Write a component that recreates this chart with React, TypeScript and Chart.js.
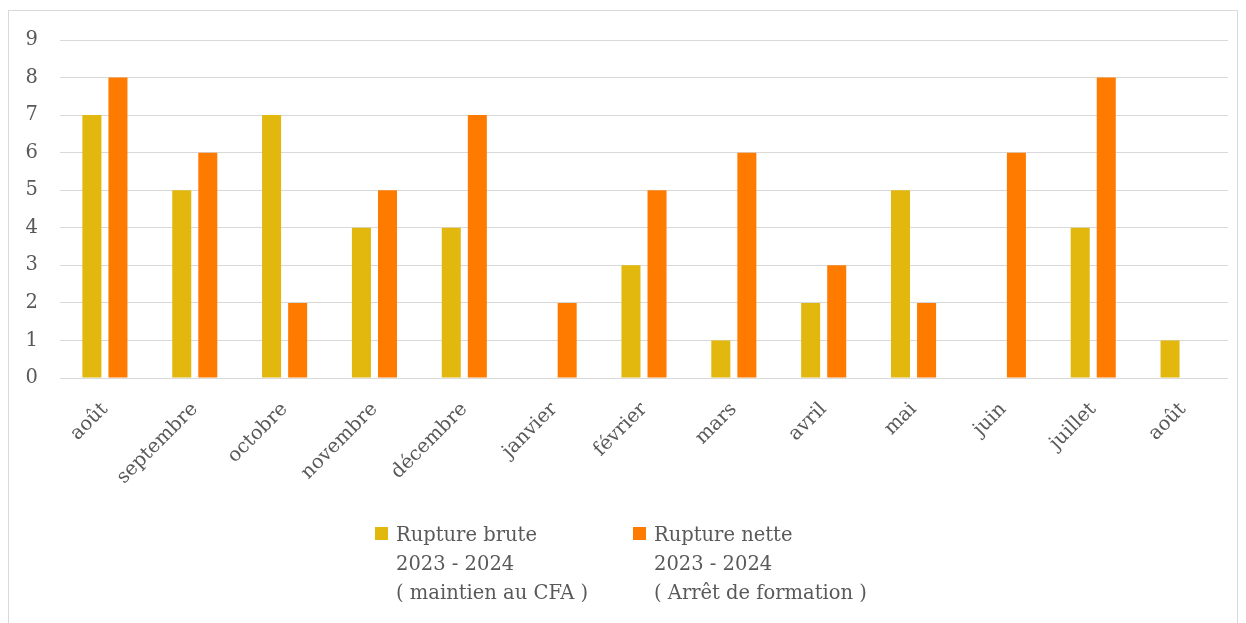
import React, { useEffect, useRef } from "react";
import { Chart, registerables } from "chart.js";

Chart.register(...registerables);

const categories = [
  "août", "septembre", "octobre", "novembre", "décembre", "janvier",
  "février", "mars", "avril", "mai", "juin", "juillet", "août",
];
const ruptureBrute: (number | null)[] = [7, 5, 7, 4, 4, null, 3, 1, 2, 5, null, 4, 1];
const ruptureNette: (number | null)[] = [8, 6, 2, 5, 7, 2, 5, 6, 3, 2, 6, 8, null];
const yTicks = [0, 1, 2, 3, 4, 5, 6, 7, 8, 9];
const legendBrute = ["Rupture brute", "2023 - 2024", "( maintien au CFA )"];
const legendNette = ["Rupture nette", "2023 - 2024", "( Arrêt de formation )"];

const COLOR_BRUTE = "#E2B70E";
const COLOR_NETTE = "#FF7B00";
const TEXT = "#595959";
const FONT = '"DejaVu Serif", serif';
const FS = 19.5;

const legendPlugin = {
  id: "multiLineLegend",
  afterDraw(chart: any) {
    const ctx = chart.ctx as CanvasRenderingContext2D;
    const items = [
      { x: 366, lines: legendBrute, color: COLOR_BRUTE },
      { x: 624, lines: legendNette, color: COLOR_NETTE },
    ];
    ctx.save();
    ctx.font = `${FS}px ${FONT}`;
    ctx.textBaseline = "alphabetic";
    ctx.textAlign = "left";
    items.forEach((it) => {
      ctx.fillStyle = it.color;
      ctx.fillRect(it.x, 516, 13, 13);
      ctx.fillStyle = TEXT;
      it.lines.forEach((ln, i) => {
        ctx.fillText(ln, it.x + 21, 530 + i * 29);
      });
    });
    ctx.restore();
  },
};

export default function App() {
  const ref = useRef<HTMLCanvasElement | null>(null);
  useEffect(() => {
    if (!ref.current) return;
    const chart = new Chart(ref.current, {
      type: "bar",
      data: {
        labels: categories,
        datasets: [
          {
            label: legendBrute.join(" "),
            data: ruptureBrute,
            backgroundColor: COLOR_BRUTE,
            categoryPercentage: 0.58,
            barPercentage: 0.73,
          },
          {
            label: legendNette.join(" "),
            data: ruptureNette,
            backgroundColor: COLOR_NETTE,
            categoryPercentage: 0.58,
            barPercentage: 0.73,
          },
        ],
      },
      options: {
        responsive: false,
        animation: false,
        devicePixelRatio: 1,
        layout: { padding: { top: 29, right: 9, left: 0, bottom: 0 } },
        plugins: {
          legend: { display: false },
          tooltip: { enabled: false },
        },
        scales: {
          x: {
            grid: { display: false, drawTicks: false },
            border: { display: false },
            ticks: {
              color: TEXT,
              font: { family: FONT, size: FS },
              maxRotation: 45,
              minRotation: 45,
              padding: 20,
              autoSkip: false,
            },
            afterFit(scale: any) {
              scale.height = 245;
            },
          },
          y: {
            min: 0,
            max: 9,
            afterBuildTicks(scale: any) {
              scale.ticks = yTicks.map((v) => ({ value: v }));
            },
            grid: {
              color: "#D9D9D9",
              lineWidth: 1,
              drawTicks: true,
              tickLength: 22,
              tickColor: "rgba(0,0,0,0)",
            },
            border: { display: false },
            ticks: {
              color: TEXT,
              font: { family: FONT, size: FS },
              padding: 0,
            },
            afterFit(scale: any) {
              scale.width = 51;
            },
          },
        },
      },
      plugins: [legendPlugin],
    });
    return () => chart.destroy();
  }, []);

  return (
    <div
      style={{
        position: "fixed",
        left: 8,
        top: 10,
        width: 1230,
        height: 650,
        border: "1px solid #D9D9D9",
        boxSizing: "border-box",
        background: "#fff",
      }}
    >
      <canvas ref={ref} width={1228} height={612} style={{ display: "block" }} />
    </div>
  );
}
